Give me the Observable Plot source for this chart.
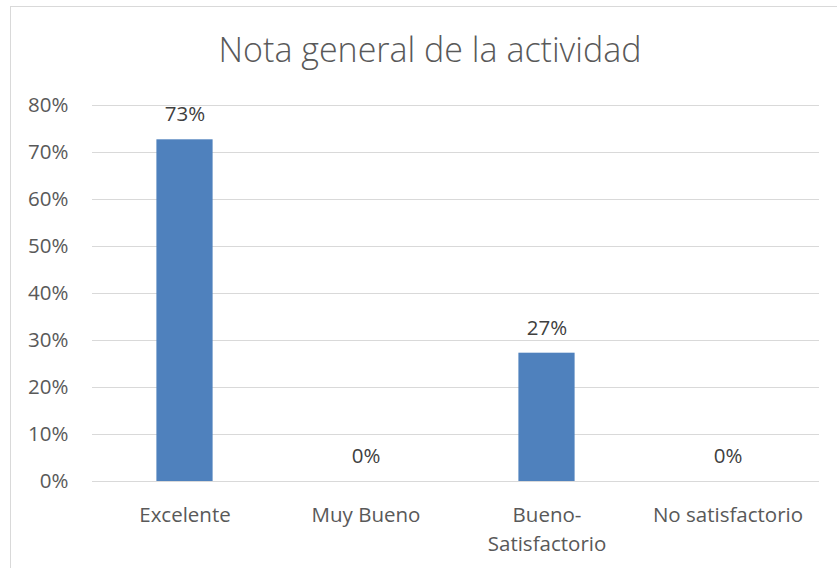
<!DOCTYPE html>
<html>
<head>
<meta charset="utf-8">
<script src="https://cdn.jsdelivr.net/npm/d3@7"></script>
<script src="https://cdn.jsdelivr.net/npm/@observablehq/plot@0.6"></script>
<style>
  html, body { margin: 0; padding: 0; background: #fff; }
  #wrap { position: relative; width: 837px; height: 568px; overflow: hidden; }
  #frame { position: absolute; left: 10px; top: 6px; width: 840px; height: 570px; border: 1px solid #d9d9d9; box-sizing: border-box; }
  #title { position: absolute; left: 0; width: 860px; top: 29px; text-align: center; font-family: "Open Sans", sans-serif; font-weight: 300; font-size: 34px; line-height: 40px; color: #595959; }
  #chart { position: absolute; left: 0; top: 0; }
</style>
</head>
<body>
<div id="wrap">
  <div id="frame"></div>
  <div id="title">Nota general de la actividad</div>
  <div id="chart"></div>
</div>
<script>
const categories = ["Excelente", "Muy Bueno", "Bueno-\nSatisfactorio", "No satisfactorio"];
const values = [0.727, 0, 0.273, 0];
const yTicks = [0, 0.1, 0.2, 0.3, 0.4, 0.5, 0.6, 0.7, 0.8];

const data = categories.map((c, i) => ({category: c, value: values[i]}));
const pct = d3.format(".0%");

const chart = Plot.plot({
  width: 837,
  height: 568,
  marginLeft: 92,
  marginRight: 18,
  marginTop: 105,
  marginBottom: 87,
  style: {fontFamily: "'Open Sans', sans-serif", background: "transparent"},
  x: {domain: categories, padding: 0, label: null},
  y: {domain: [0, 0.8], label: null},
  marks: [
    Plot.gridY(yTicks, {stroke: "#d9d9d9", strokeOpacity: 1, strokeWidth: 1}),
    Plot.barY(data, {x: "category", y: "value", fill: "#4f81bd", insetLeft: 62.4, insetRight: 62.4}),
    Plot.text(data, {x: "category", y: "value", text: d => pct(d.value), dy: -25, fontSize: 20.5, fill: "#404040"}),
    Plot.axisY(yTicks, {tickSize: 0, tickPadding: 24, tickFormat: pct, fontSize: 20.5, fill: "#595959", label: null}),
    Plot.axisX({tickSize: 0, tickPadding: 20, fontSize: 20.5, fill: "#595959", lineHeight: 1.4, label: null})
  ]
});
document.getElementById("chart").appendChild(chart);
</script>
</body>
</html>
